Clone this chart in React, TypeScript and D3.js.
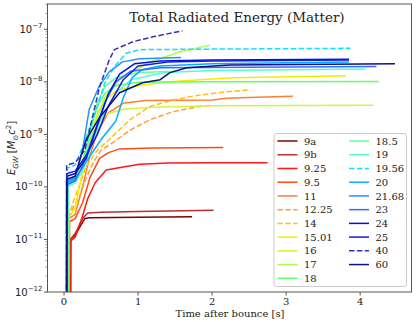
import React from "react";
import * as d3 from "d3";

const labels = ["9a","9b","9.25","9.5","11","12.25","14","15.01","16","17","18","18.5","19","19.56","20","21.68","23","24","25","40","60"];
const colors = ["#800000","#b83030","#ff1818","#ff4a10","#ff7f30","#ffa030","#ffc010","#f4ec00","#d0f53c","#a4ff48","#60ff60","#60ff98","#50ffd0","#10e0ff","#00b0ff","#2890ff","#3a6aff","#0010d8","#1a1ae0","#3030b8","#101080"];
const dashed = ["12.25","14","19.56","40"];

const s9a: [number, number][] = [[0.08,1e-13],[0.085,1.0e-11],[0.15,1.2e-11],[0.22,1.8e-11],[0.28,2.5e-11],[0.35,2.6e-11],[1.0,2.65e-11],[1.73,2.7e-11]];
const s9b: [number, number][] = [[0.08,1e-13],[0.085,1e-11],[0.15,1.3e-11],[0.25,2.5e-11],[0.32,3.2e-11],[0.5,3.3e-11],[1.0,3.4e-11],[2.02,3.6e-11]];
const s925: [number, number][] = [[0.09,1e-13],[0.095,9.5e-12],[0.15,1.1e-11],[0.25,2.8e-11],[0.32,6e-11],[0.42,1.2e-10],[0.57,2.1e-10],[0.8,2.4e-10],[1.02,2.7e-10],[1.4,2.85e-10],[2.0,2.9e-10],[2.75,2.9e-10]];
const s95: [number, number][] = [[0.07,1e-13],[0.075,2.2e-11],[0.15,2.5e-11],[0.25,5e-11],[0.35,1.5e-10],[0.48,3.5e-10],[0.6,4.5e-10],[0.75,5.3e-10],[1.2,5.5e-10],[2.15,5.6e-10]];
const s11: [number, number][] = [[0.06,1e-13],[0.065,2.5e-11],[0.15,3e-11],[0.25,1e-10],[0.35,4e-10],[0.45,1.1e-9],[0.6,2.6e-9],[0.8,3.9e-9],[1.1,4.4e-9],[2.0,4.5e-9],[2.2,4.9e-9],[2.6,5.1e-9],[3.09,5.3e-9]];
const s1225: [number, number][] = [[0.06,1e-13],[0.065,2.5e-11],[0.12,4e-11],[0.2,6e-11],[0.3,1.5e-10],[0.4,3e-10],[0.5,5e-10],[0.66,7e-10],[0.89,1.2e-9],[1.16,1.9e-9],[1.47,2.7e-9],[1.83,3.4e-9],[2.0,3.6e-9]];
const s14: [number, number][] = [[0.055,1e-13],[0.06,2.5e-11],[0.12,5e-11],[0.2,1e-10],[0.3,2.5e-10],[0.45,5e-10],[0.61,8e-10],[0.89,1.9e-9],[1.16,3.4e-9],[1.47,4.5e-9],[1.83,5.6e-9],[2.21,6.5e-9],[2.49,7e-9]];
const s1501: [number, number][] = [[0.06,1e-13],[0.065,2.6e-11],[0.15,4e-11],[0.25,2e-10],[0.35,8e-10],[0.45,2.5e-9],[0.55,4.5e-9],[0.72,7e-9],[1.06,8.7e-9],[1.43,1e-8],[1.83,1.1e-8],[2.3,1.2e-8],[3.81,1.3e-8]];
const s16: [number, number][] = [[0.05,1e-13],[0.055,1.2e-10],[0.15,1.5e-10],[0.25,3e-10],[0.35,8e-10],[0.45,1.6e-9],[0.6,2.5e-9],[0.8,3e-9],[1.2,3.3e-9],[2.0,3.5e-9],[4.18,3.6e-9]];
const s17: [number, number][] = [[0.05,1e-13],[0.055,1.2e-10],[0.15,1.4e-10],[0.25,2.5e-10],[0.35,7e-10],[0.41,1.5e-9],[0.55,5e-9],[0.75,1.1e-8],[1.16,2.4e-8],[1.56,3.7e-8],[1.97,5e-8]];
const s18: [number, number][] = [[0.05,1e-13],[0.055,1.3e-10],[0.15,1.6e-10],[0.25,3e-10],[0.35,1.2e-9],[0.45,3.5e-9],[0.55,6e-9],[0.7,8.5e-9],[1.0,9.8e-9],[2.0,1e-8],[4.25,1.02e-8]];
const s185: [number, number][] = [[0.045,1e-13],[0.05,1.1e-10],[0.15,1.3e-10],[0.25,2.5e-10],[0.35,1e-9],[0.45,4e-9],[0.55,8e-9],[0.7,1.2e-8],[1.0,1.5e-8],[1.55,1.6e-8]];
const s19: [number, number][] = [[0.045,1e-13],[0.05,1e-10],[0.15,1.2e-10],[0.25,2e-10],[0.35,5e-10],[0.5,2e-9],[0.7,6e-9],[0.9,1.1e-8],[1.36,1.5e-8],[2.0,1.65e-8],[4.07,1.75e-8]];
const s1956: [number, number][] = [[0.04,1e-13],[0.045,2.3e-10],[0.15,2.6e-10],[0.25,5.8e-10],[0.44,3e-9],[0.55,9.5e-9],[0.68,1.95e-8],[0.84,3.5e-8],[1.02,4.1e-8],[2.0,4.2e-8],[3.87,4.35e-8]];
const s20: [number, number][] = [[0.04,1e-13],[0.045,1.2e-10],[0.15,1.4e-10],[0.3,3e-10],[0.5,8e-10],[0.7,1.8e-9],[0.8,5e-9],[0.92,1.2e-8],[1.05,1.7e-8],[1.3,2e-8],[2.0,2.2e-8],[3.85,2.4e-8]];
const s2168: [number, number][] = [[0.04,1e-13],[0.045,1.3e-10],[0.15,1.5e-10],[0.25,5e-10],[0.34,3e-9],[0.47,8e-9],[0.61,1.55e-8],[0.79,2.4e-8],[1.02,2.75e-8],[1.58,2.9e-8]];
const s23: [number, number][] = [[0.035,1e-13],[0.04,1.1e-10],[0.15,1.3e-10],[0.25,2.5e-10],[0.4,1e-9],[0.55,4e-9],[0.7,1e-8],[0.9,1.6e-8],[1.3,1.85e-8],[2.5,1.9e-8],[4.22,1.95e-8]];
const s24: [number, number][] = [[0.035,1e-13],[0.04,1.6e-10],[0.15,1.8e-10],[0.3,3.5e-10],[0.45,1.5e-9],[0.6,6e-9],[0.75,1.4e-8],[0.95,2.2e-8],[1.3,2.5e-8],[2.0,2.6e-8],[3.85,2.7e-8]];
const s25: [number, number][] = [[0.035,1e-13],[0.04,1.8e-10],[0.15,2e-10],[0.3,4e-10],[0.45,1e-9],[0.6,3.5e-9],[0.8,1.1e-8],[1.0,2e-8],[1.4,2.4e-8],[2.0,2.5e-8],[3.85,2.6e-8]];
const s40: [number, number][] = [[0.03,1e-13],[0.035,2.6e-10],[0.15,2.9e-10],[0.28,5e-10],[0.48,8e-9],[0.61,2.6e-8],[0.68,4.1e-8],[0.93,5.8e-8],[1.2,7.2e-8],[1.47,8.6e-8],[1.6,9.3e-8]];
const s60: [number, number][] = [[0.03,1e-13],[0.035,1.4e-10],[0.15,1.6e-10],[0.21,3.2e-10],[0.3,8e-10],[0.48,2.1e-9],[0.75,6.2e-9],[1.06,9.6e-9],[1.3,1.1e-8],[1.43,1.5e-8],[1.66,1.85e-8],[2.24,2.1e-8],[4.47,2.2e-8]];

const seriesData = [s9a,s9b,s925,s95,s11,s1225,s14,s1501,s16,s17,s18,s185,s19,s1956,s20,s2168,s23,s24,s25,s40,s60];

const xTicks = [0,1,2,3,4];
const yDecades = [-12,-11,-10,-9,-8,-7];

const FONT = "DejaVu Serif";
const MATH = "DejaVu Sans";

export default function App() {
  const W = 416, H = 322;
  const L = 47.5, R = 411.5, T = 4, B = 292;
  const x = d3.scaleLinear().domain([-0.2235, 4.6935]).range([L, R]);
  const y = d3.scaleLog().domain([1e-12, Math.pow(10, -6.518)]).range([B, T]);
  const line = d3.line<[number, number]>().x(d => x(d[0])).y(d => y(Math.max(d[1], 1e-14)));

  const minor: number[] = [];
  yDecades.forEach(dd => {
    for (let k = 2; k <= 9; k++) {
      const v = k * Math.pow(10, dd);
      if (v < y.domain()[1]) minor.push(v);
    }
  });

  const order = seriesData.map((_, i) => i);
  const legX = 274, legY = 133.5, legW = 132.5, legH = 153;
  const rowH = 13.73;

  return (
    <svg width={W} height={H} style={{ position: "absolute", left: 0, top: 0 }} fontFamily={FONT}>
      <rect x={0} y={0} width={W} height={H} fill="#fff" />
      <defs>
        <clipPath id="plotclip">
          <rect x={L} y={T} width={R - L} height={B - T} />
        </clipPath>
      </defs>
      <g clipPath="url(#plotclip)">
        {order.map(i => (
          <path key={labels[i]} d={line(seriesData[i]) || ""} fill="none" stroke={colors[i]}
            strokeWidth={1.5} strokeDasharray={dashed.includes(labels[i]) ? "5.5,2.4" : undefined}
            strokeLinejoin="round" />
        ))}
      </g>
      <rect x={L} y={T} width={R - L} height={B - T} fill="none" stroke="#555" strokeWidth={1} />
      {xTicks.map(t => (
        <g key={t}>
          <line x1={x(t)} x2={x(t)} y1={B} y2={B + 3.5} stroke="#555" />
          <text x={x(t)} y={304.5} fontSize={10} textAnchor="middle" fill="#222">{t}</text>
        </g>
      ))}
      {yDecades.map(dd => (
        <g key={dd}>
          <line x1={L - 3.5} x2={L} y1={y(Math.pow(10, dd))} y2={y(Math.pow(10, dd))} stroke="#555" />
          <text x={42.5} y={y(Math.pow(10, dd)) + 3.5} fontSize={10} textAnchor="end" fill="#222" fontFamily={MATH}>
            10<tspan dy={-4.5} fontSize={7}>{"\u2212" + Math.abs(dd)}</tspan>
          </text>
        </g>
      ))}
      {minor.map(v => (
        <line key={v} x1={L - 2} x2={L} y1={y(v)} y2={y(v)} stroke="#555" strokeWidth={0.6} />
      ))}
      <text x={230} y={317} fontSize={10} textAnchor="middle" fill="#222">Time after bounce [s]</text>
      <text transform={`translate(15,${(T + B) / 2}) rotate(-90)`} fontSize={10} textAnchor="middle" fill="#222" fontFamily={MATH}>
        <tspan fontStyle="italic">E</tspan><tspan dy={2.5} fontSize={7} fontStyle="italic">GW</tspan>
        <tspan dy={-2.5}>{" [" }</tspan><tspan fontStyle="italic">M</tspan><tspan dy={2.5} fontSize={7}>{"\u2299"}</tspan>
        <tspan dy={-2.5} fontStyle="italic">c</tspan><tspan dy={-4} fontSize={7}>2</tspan><tspan dy={4}>]</tspan>
      </text>
      <text x={237} y={22} fontSize={13.5} textAnchor="middle" fill="#222">Total Radiated Energy (Matter)</text>
      <rect x={legX} y={legY} width={legW} height={legH} rx={2.5} fill="#fff" fillOpacity={0.8} stroke="#ccc" strokeWidth={1} />
      {labels.map((lab, i) => {
        const col = i < 11 ? 0 : 1;
        const row = i < 11 ? i : i - 11;
        const lx = col === 0 ? 277.5 : 349;
        const ty = 141 + row * rowH;
        return (
          <g key={lab}>
            <line x1={lx} x2={lx + 20} y1={ty} y2={ty} stroke={colors[i]} strokeWidth={1.5}
              strokeDasharray={dashed.includes(lab) ? "5.5,2.4" : undefined} />
            <text x={lx + 26.5} y={ty + 3.6} fontSize={10} fill="#222">{lab}</text>
          </g>
        );
      })}
    </svg>
  );
}
